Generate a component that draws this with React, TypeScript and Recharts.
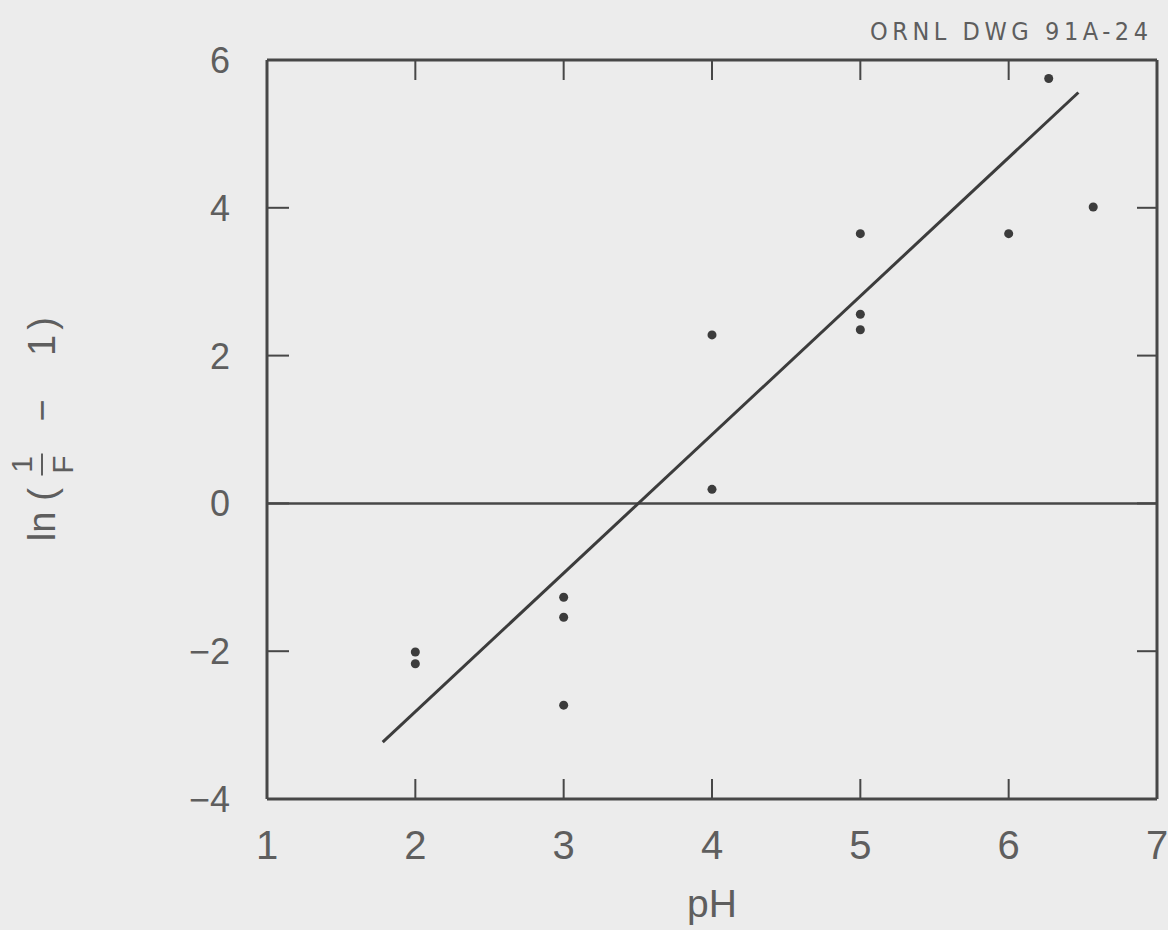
import {
  ScatterChart,
  Scatter,
  XAxis,
  YAxis,
  ReferenceLine,
} from "recharts";

const PH = [2, 2, 3, 3, 3, 4, 4, 5, 5, 5, 6, 6.27, 6.57];
const LN_F = [-2.01, -2.17, -1.27, -1.54, -2.73, 2.28, 0.19, 3.65, 2.56, 2.35, 3.65, 5.75, 4.01];

// fitted line end points
const FIT_PH = [1.78, 6.47];
const FIT_LN = [-3.23, 5.56];

const X_TICKS = [1, 2, 3, 4, 5, 6, 7];
const Y_TICKS = [-4, -2, 0, 2, 4, 6];
const X_DOMAIN: [number, number] = [1, 7];
const Y_DOMAIN: [number, number] = [-4, 6];

const points = PH.map((x, i) => ({ x, y: LN_F[i] }));
const fit = FIT_PH.map((x, i) => ({ x, y: FIT_LN[i] }));

// frame of the plot box
const W = 1168;
const H = 930;
const PLOT_L = 267;
const PLOT_R = 1157;
const PLOT_T = 60;
const PLOT_B = 799;

const INK = "#474747";
const TEXT = "#5e5e5e";
const FONT = "'Liberation Sans', Arial, sans-serif";

const fmt = (v: number) => (v < 0 ? `\u2212${Math.abs(v)}` : `${v}`);

// bottom labels plus inward ticks on bottom and top edges
function XTick({ x, payload }: any) {
  const v = payload.value;
  const inner = v !== X_DOMAIN[0] && v !== X_DOMAIN[1];
  return (
    <g>
      {inner && (
        <>
          <line x1={x} x2={x} y1={PLOT_B} y2={PLOT_B - 20} stroke={INK} strokeWidth={2} />
          <line x1={x} x2={x} y1={PLOT_T} y2={PLOT_T + 20} stroke={INK} strokeWidth={2} />
        </>
      )}
      <text x={x} y={PLOT_B + 60} textAnchor="middle" fontSize={40} fill={TEXT} fontFamily={FONT}>
        {fmt(v)}
      </text>
    </g>
  );
}

// left labels plus inward ticks on left and right edges
function YTick({ y, payload }: any) {
  const v = payload.value;
  const inner = v !== Y_DOMAIN[0] && v !== Y_DOMAIN[1];
  return (
    <g>
      {inner && (
        <>
          <line x1={PLOT_L} x2={PLOT_L + 22} y1={y} y2={y} stroke={INK} strokeWidth={2} />
          <line x1={PLOT_R} x2={PLOT_R - 20} y1={y} y2={y} stroke={INK} strokeWidth={2} />
        </>
      )}
      <text x={PLOT_L - 37} y={y + 13} textAnchor="end" fontSize={36} fill={TEXT} fontFamily={FONT}>
        {fmt(v)}
      </text>
    </g>
  );
}

// ln(1/F - 1), rotated, with a small stacked fraction
function YLabel({ viewBox }: any) {
  const cy = viewBox.y + viewBox.height / 2 - 7;
  return (
    <g transform={`translate(55,${cy}) rotate(-90)`} fill={TEXT} fontFamily={FONT}>
      <text x={-104} y={0} fontSize={38} textAnchor="middle">ln</text>
      <text x={-72} y={0} fontSize={38} textAnchor="middle">(</text>
      <text x={-42} y={-23} fontSize={30} textAnchor="middle">1</text>
      <line x1={-53} x2={-31} y1={-13} y2={-13} stroke={TEXT} strokeWidth={2} />
      <text x={-42} y={18} fontSize={30} textAnchor="middle">F</text>
      <text x={12} y={0} fontSize={38} textAnchor="middle">{"\u2212"}</text>
      <text x={77} y={0} fontSize={38} textAnchor="middle">1</text>
      <text x={99} y={0} fontSize={38} textAnchor="middle">)</text>
    </g>
  );
}

function XLabel({ viewBox }: any) {
  return (
    <text
      x={viewBox.x + viewBox.width / 2}
      y={PLOT_B + 118}
      textAnchor="middle"
      fontSize={39}
      fill={TEXT}
      fontFamily={FONT}
    >
      pH
    </text>
  );
}

export default function App() {
  return (
    <div style={{ position: "absolute", left: 0, top: 0, width: W, height: H, background: "#ececec" }}>
      <ScatterChart
        width={W}
        height={H}
        margin={{ top: PLOT_T, right: W - PLOT_R, bottom: 0, left: PLOT_L - 80 }}
      >
        <XAxis
          xAxisId="x"
          dataKey="x"
          type="number"
          domain={X_DOMAIN}
          ticks={X_TICKS}
          height={H - PLOT_B}
          tickSize={0}
          tickMargin={0}
          tickLine={false}
          axisLine={{ stroke: INK, strokeWidth: 3 }}
          tick={<XTick />}
          interval={0}
          label={{ content: XLabel }}
        />
        <YAxis
          yAxisId="y"
          dataKey="y"
          type="number"
          domain={Y_DOMAIN}
          ticks={Y_TICKS}
          width={80}
          tickSize={0}
          tickMargin={0}
          tickLine={false}
          axisLine={{ stroke: INK, strokeWidth: 3 }}
          tick={<YTick />}
          interval={0}
          label={{ content: YLabel }}
        />
        {/* top and right edges of the box */}
        <ReferenceLine xAxisId="x" yAxisId="y" y={Y_DOMAIN[1]} stroke={INK} strokeWidth={3} />
        <ReferenceLine xAxisId="x" yAxisId="y" x={X_DOMAIN[1]} stroke={INK} strokeWidth={3} />
        <ReferenceLine xAxisId="x" yAxisId="y" y={0} stroke={INK} strokeWidth={2.5} />
        <Scatter
          xAxisId="x"
          yAxisId="y"
          data={fit}
          line={{ stroke: "#3c3c3c", strokeWidth: 3 }}
          shape={() => <g />}
          isAnimationActive={false}
        />
        <Scatter xAxisId="x" yAxisId="y" data={points} fill="#3c3c3c" isAnimationActive={false} />
      </ScatterChart>
      <svg
        width={W}
        height={PLOT_T}
        style={{ position: "absolute", left: 0, top: 0, pointerEvents: "none" }}
      >
        <text
          x={1148}
          y={40}
          textAnchor="end"
          fontSize={25}
          fill={TEXT}
          fontFamily="'DejaVu Sans Condensed', 'Liberation Sans Narrow', sans-serif"
          textLength={278}
          lengthAdjust="spacing"
        >
          ORNL DWG 91A-24
        </text>
      </svg>
    </div>
  );
}
